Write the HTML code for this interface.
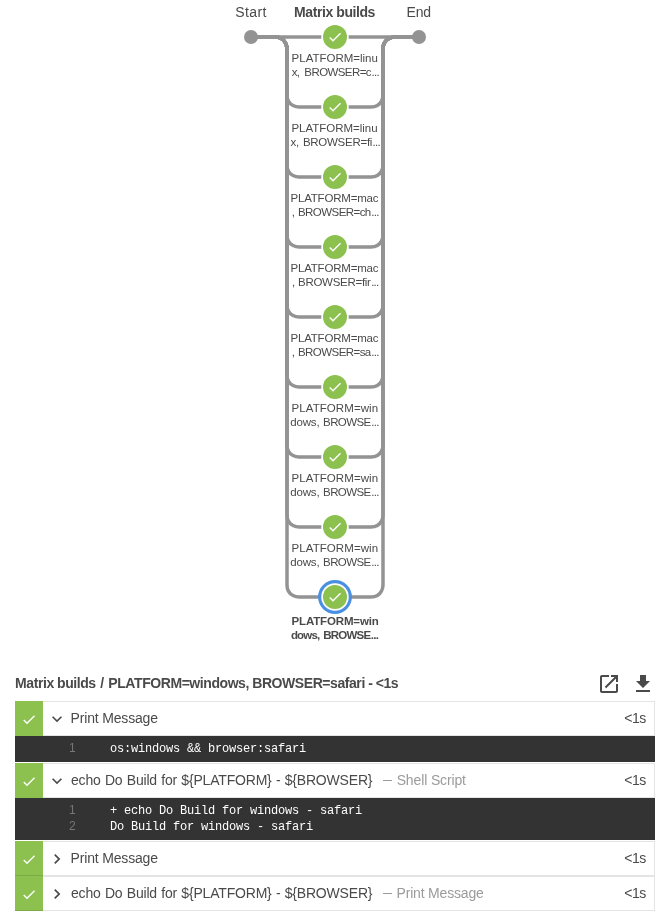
<!DOCTYPE html>
<html><head><meta charset="utf-8"><title>Pipeline</title>
<style>
html,body{margin:0;padding:0;background:#fff;}
body{width:658px;height:917px;position:relative;overflow:hidden;will-change:transform;font-family:"Liberation Sans",sans-serif;color:#4a4a4a;}
.graph{position:absolute;left:0;top:0;}
.bl{position:absolute;top:4px;font-size:14px;line-height:17px;white-space:nowrap;transform:translateX(-50%);color:#4a4a4a;}
.bl.b{font-weight:bold;}
.sl{position:absolute;left:285px;width:100px;text-align:center;font-size:11.5px;line-height:14px;white-space:nowrap;color:#4a4a4a;}
.sl.sel{font-weight:bold;}
.el{letter-spacing:-0.7px;word-spacing:0;margin-left:0.5px;}
.hd{position:absolute;left:15px;top:674px;font-size:14px;line-height:18px;font-weight:bold;white-space:nowrap;color:#4a4a4a;}
.row{position:absolute;left:15px;width:640px;height:35px;box-sizing:border-box;border:1px solid #e4e4e4;background:#fff;}
.gs{position:absolute;left:-1px;top:-1px;width:28px;height:35px;background:#8cc04f;}
.ck{position:absolute;left:0;top:0.5px;}
.gs.c:after{content:"";position:absolute;left:0;right:0;bottom:0;height:1px;background:rgba(0,0,0,0.1);}
.chev{position:absolute;left:31px;top:6.5px;}
.ttl{position:absolute;left:55px;top:8px;font-size:14px;line-height:17px;white-space:nowrap;color:#4a4a4a;}
.dash{position:absolute;left:367.3px;top:16px;width:9px;height:1px;background:#9b9b9b;}
.sub{position:absolute;top:8px;font-size:14px;line-height:17px;white-space:nowrap;color:#9b9b9b;}
.dur{position:absolute;right:8px;top:8px;font-size:14px;line-height:17px;white-space:nowrap;color:#4a4a4a;}
.code{position:absolute;left:15px;width:640px;background:#333;box-sizing:border-box;padding-top:5px;font-family:"Liberation Mono",monospace;font-size:12px;letter-spacing:-0.2px;line-height:16px;color:#fff;}
.ln{position:relative;height:16px;white-space:pre;}
.no{position:absolute;left:54px;top:-1px;color:#777;font-family:"Liberation Sans",sans-serif;font-size:12px;letter-spacing:0;}
.tx{position:absolute;left:95px;}
</style></head>
<body>
<svg class="graph" width="658" height="660" viewBox="0 0 658 660">
<g fill="none" stroke="#949393" stroke-width="3.5">
<path d="M 251 37 L 419 37"/>
<path d="M 251 37 l 24 0 c 12 0 12 12 12 12 l 0 46 c 0 12 12 12 12 12 l 36 0"/>
<path d="M 335 107 l 36 0 c 12 0 12 -12 12 -12 l 0 -46 c 0 -12 12 -12 12 -12 l 24 0"/>
<path d="M 251 37 l 24 0 c 12 0 12 12 12 12 l 0 116 c 0 12 12 12 12 12 l 36 0"/>
<path d="M 335 177 l 36 0 c 12 0 12 -12 12 -12 l 0 -116 c 0 -12 12 -12 12 -12 l 24 0"/>
<path d="M 251 37 l 24 0 c 12 0 12 12 12 12 l 0 186 c 0 12 12 12 12 12 l 36 0"/>
<path d="M 335 247 l 36 0 c 12 0 12 -12 12 -12 l 0 -186 c 0 -12 12 -12 12 -12 l 24 0"/>
<path d="M 251 37 l 24 0 c 12 0 12 12 12 12 l 0 256 c 0 12 12 12 12 12 l 36 0"/>
<path d="M 335 317 l 36 0 c 12 0 12 -12 12 -12 l 0 -256 c 0 -12 12 -12 12 -12 l 24 0"/>
<path d="M 251 37 l 24 0 c 12 0 12 12 12 12 l 0 326 c 0 12 12 12 12 12 l 36 0"/>
<path d="M 335 387 l 36 0 c 12 0 12 -12 12 -12 l 0 -326 c 0 -12 12 -12 12 -12 l 24 0"/>
<path d="M 251 37 l 24 0 c 12 0 12 12 12 12 l 0 396 c 0 12 12 12 12 12 l 36 0"/>
<path d="M 335 457 l 36 0 c 12 0 12 -12 12 -12 l 0 -396 c 0 -12 12 -12 12 -12 l 24 0"/>
<path d="M 251 37 l 24 0 c 12 0 12 12 12 12 l 0 466 c 0 12 12 12 12 12 l 36 0"/>
<path d="M 335 527 l 36 0 c 12 0 12 -12 12 -12 l 0 -466 c 0 -12 12 -12 12 -12 l 24 0"/>
<path d="M 251 37 l 24 0 c 12 0 12 12 12 12 l 0 536 c 0 12 12 12 12 12 l 36 0"/>
<path d="M 335 597 l 36 0 c 12 0 12 -12 12 -12 l 0 -536 c 0 -12 12 -12 12 -12 l 24 0"/>
</g>
<circle cx="251" cy="37" r="7" fill="#949393"/>
<circle cx="419" cy="37" r="7" fill="#949393"/>
<g transform="translate(335 37)">
<circle r="13.75" fill="#fff"/>
<circle r="12" fill="#8cc04f"/>
<polygon points="-2.00 2.80 -4.80 0.00 -5.73 0.933 -2.00 4.67 6.00 -3.33 5.07 -4.27" fill="#fff"/>
</g>
<g transform="translate(335 107)">
<circle r="13.75" fill="#fff"/>
<circle r="12" fill="#8cc04f"/>
<polygon points="-2.00 2.80 -4.80 0.00 -5.73 0.933 -2.00 4.67 6.00 -3.33 5.07 -4.27" fill="#fff"/>
</g>
<g transform="translate(335 177)">
<circle r="13.75" fill="#fff"/>
<circle r="12" fill="#8cc04f"/>
<polygon points="-2.00 2.80 -4.80 0.00 -5.73 0.933 -2.00 4.67 6.00 -3.33 5.07 -4.27" fill="#fff"/>
</g>
<g transform="translate(335 247)">
<circle r="13.75" fill="#fff"/>
<circle r="12" fill="#8cc04f"/>
<polygon points="-2.00 2.80 -4.80 0.00 -5.73 0.933 -2.00 4.67 6.00 -3.33 5.07 -4.27" fill="#fff"/>
</g>
<g transform="translate(335 317)">
<circle r="13.75" fill="#fff"/>
<circle r="12" fill="#8cc04f"/>
<polygon points="-2.00 2.80 -4.80 0.00 -5.73 0.933 -2.00 4.67 6.00 -3.33 5.07 -4.27" fill="#fff"/>
</g>
<g transform="translate(335 387)">
<circle r="13.75" fill="#fff"/>
<circle r="12" fill="#8cc04f"/>
<polygon points="-2.00 2.80 -4.80 0.00 -5.73 0.933 -2.00 4.67 6.00 -3.33 5.07 -4.27" fill="#fff"/>
</g>
<g transform="translate(335 457)">
<circle r="13.75" fill="#fff"/>
<circle r="12" fill="#8cc04f"/>
<polygon points="-2.00 2.80 -4.80 0.00 -5.73 0.933 -2.00 4.67 6.00 -3.33 5.07 -4.27" fill="#fff"/>
</g>
<g transform="translate(335 527)">
<circle r="13.75" fill="#fff"/>
<circle r="12" fill="#8cc04f"/>
<polygon points="-2.00 2.80 -4.80 0.00 -5.73 0.933 -2.00 4.67 6.00 -3.33 5.07 -4.27" fill="#fff"/>
</g>
<g transform="translate(335 597)">
<circle r="15" fill="none" stroke="#4a90e2" stroke-width="3.85"/>
<circle r="13.75" fill="#fff"/>
<circle r="12" fill="#8cc04f"/>
<polygon points="-2.00 2.80 -4.80 0.00 -5.73 0.933 -2.00 4.67 6.00 -3.33 5.07 -4.27" fill="#fff"/>
</g>
</svg>
<div class="bl" style="left:251px"><span id="b0" style="letter-spacing:0.374px;position:relative;left:-0.02px;">Start</span></div>
<div class="bl b" style="left:335px"><span id="b1" style="letter-spacing:-0.419px;position:relative;left:-0.47px;">Matrix builds</span></div>
<div class="bl" style="left:419px"><span id="b2" style="letter-spacing:-0.175px;position:relative;left:-0.34px;">End</span></div>
<div class="sl" style="top:51px"><span id="l0a" style="letter-spacing:-0.015px;position:relative;left:-0.31px;">PLATFORM=linu</span><br><span id="l0b" style="letter-spacing:-0.585px;word-spacing:2.302px;position:relative;left:0.32px;">x, BROWSER=c<span class="el">...</span></span></div>
<div class="sl" style="top:121px"><span id="l1a" style="letter-spacing:-0.013px;position:relative;left:-0.47px;">PLATFORM=linu</span><br><span id="l1b" style="letter-spacing:-0.271px;word-spacing:1.158px;position:relative;left:0.29px;">x, BROWSER=fi<span class="el">...</span></span></div>
<div class="sl" style="top:191px"><span id="l2a" style="letter-spacing:-0.2px;position:relative;left:-0.63px;">PLATFORM=mac</span><br><span id="l2b" style="letter-spacing:-0.555px;word-spacing:0.896px;position:relative;left:0.27px;">, BROWSER=ch<span class="el">...</span></span></div>
<div class="sl" style="top:261px"><span id="l3a" style="letter-spacing:-0.2px;position:relative;left:-0.63px;">PLATFORM=mac</span><br><span id="l3b" style="letter-spacing:-0.285px;word-spacing:0.297px;position:relative;left:0.29px;">, BROWSER=fir<span class="el">...</span></span></div>
<div class="sl" style="top:331px"><span id="l4a" style="letter-spacing:-0.2px;position:relative;left:-0.63px;">PLATFORM=mac</span><br><span id="l4b" style="letter-spacing:-0.555px;word-spacing:0.896px;position:relative;left:0.27px;">, BROWSER=sa<span class="el">...</span></span></div>
<div class="sl" style="top:401px"><span id="l5a" style="letter-spacing:0.069px;position:relative;left:-0.16px;">PLATFORM=win</span><br><span id="l5b" style="letter-spacing:-0.595px;word-spacing:1.083px;position:relative;left:-0.56px;"><span style="letter-spacing:-0.18px">dows,</span> BROWSE<span class="el">...</span></span></div>
<div class="sl" style="top:471px"><span id="l6a" style="letter-spacing:0.069px;position:relative;left:-0.16px;">PLATFORM=win</span><br><span id="l6b" style="letter-spacing:-0.595px;word-spacing:1.083px;position:relative;left:-0.56px;"><span style="letter-spacing:-0.18px">dows,</span> BROWSE<span class="el">...</span></span></div>
<div class="sl" style="top:541px"><span id="l7a" style="letter-spacing:0.069px;position:relative;left:-0.16px;">PLATFORM=win</span><br><span id="l7b" style="letter-spacing:-0.595px;word-spacing:1.083px;position:relative;left:-0.56px;"><span style="letter-spacing:-0.18px">dows,</span> BROWSE<span class="el">...</span></span></div>
<div class="sl sel" style="top:614px"><span id="l8a" style="letter-spacing:-0.159px;position:relative;left:0.09px;">PLATFORM=win</span><br><span id="l8b" style="letter-spacing:-0.806px;word-spacing:1.526px;position:relative;left:-0.41px;">dows, BROWSE<span class="el">...</span></span></div>
<div class="hd"><span id="hd" style="letter-spacing:-0.43px;word-spacing:-0.166px;position:relative;left:0.11px;">Matrix builds <span style="margin:0 1.4px 0 1.2px">/</span> PLATFORM=windows, BROWSER=safari - &lt;1s</span></div>
<svg style="position:absolute;left:597px;top:672px" width="24" height="24" viewBox="0 0 24 24"><path fill="#4a4a4a" d="M19 19H5V5h7V3H5c-1.11 0-2 .9-2 2v14c0 1.1.89 2 2 2h14c1.1 0 2-.9 2-2v-7h-2v7zM14 3v2h3.59l-9.83 9.83 1.41 1.41L19 6.41V10h2V3h-7z"/></svg>
<svg style="position:absolute;left:631px;top:672px" width="24" height="24" viewBox="0 0 24 24"><path fill="#4a4a4a" d="M19 9h-4V3H9v6H5l7 7 7-7zM5 18v2h14v-2H5z"/></svg>
<div class="row" style="top:701px"><div class="gs"><svg class="ck" width="28" height="35" viewBox="-14 -17.5 28 35"><polygon points="-2.00 2.80 -4.80 0.00 -5.73 0.933 -2.00 4.67 6.00 -3.33 5.07 -4.27" fill="#fff"/></svg></div><svg class="chev" width="20" height="20" viewBox="0 0 24 24"><path d="M7.41 8.59L12 13.17l4.59-4.58L18 10l-6 6-6-6 1.41-1.41z" fill="#4a4a4a"/></svg><span class="ttl"><span id="r1t" style="letter-spacing:-0.172px;position:relative;left:-0.44px;">Print Message</span></span><span class="dur"><span id="r1d" style="letter-spacing:-0.394px;position:relative;left:-0.06px;">&lt;1s</span></span></div>
<div class="code" style="top:736px;height:25.5px"><div class="ln"><span class="no">1</span><span class="tx">os:windows &amp;&amp; browser:safari</span></div></div>
<div class="row" style="top:763px"><div class="gs"><svg class="ck" width="28" height="35" viewBox="-14 -17.5 28 35"><polygon points="-2.00 2.80 -4.80 0.00 -5.73 0.933 -2.00 4.67 6.00 -3.33 5.07 -4.27" fill="#fff"/></svg></div><svg class="chev" width="20" height="20" viewBox="0 0 24 24"><path d="M7.41 8.59L12 13.17l4.59-4.58L18 10l-6 6-6-6 1.41-1.41z" fill="#4a4a4a"/></svg><span class="ttl"><span id="r2t" style="letter-spacing:-0.19px;word-spacing:0.623px;position:relative;left:0.01px;">echo Do Build for ${PLATFORM} - ${BROWSER}</span></span><i class="dash"></i><span class="sub" style="left:382px"><span id="r2s" style="letter-spacing:-0.136px;position:relative;left:-1.34px;">Shell Script</span></span><span class="dur"><span id="r2d" style="letter-spacing:-0.394px;position:relative;left:-0.06px;">&lt;1s</span></span></div>
<div class="code" style="top:798px;height:41.5px"><div class="ln"><span class="no">1</span><span class="tx">+ echo Do Build for windows - safari</span></div><div class="ln"><span class="no">2</span><span class="tx">Do Build for windows - safari</span></div></div>
<div class="row" style="top:841px"><div class="gs c"><svg class="ck" width="28" height="35" viewBox="-14 -17.5 28 35"><polygon points="-2.00 2.80 -4.80 0.00 -5.73 0.933 -2.00 4.67 6.00 -3.33 5.07 -4.27" fill="#fff"/></svg></div><svg class="chev" width="20" height="20" viewBox="0 0 24 24"><path d="M8.59 16.59L13.17 12 8.59 7.41 10 6l6 6-6 6-1.41-1.41z" fill="#4a4a4a"/></svg><span class="ttl"><span id="r3t" style="letter-spacing:-0.172px;position:relative;left:-0.44px;">Print Message</span></span><span class="dur"><span id="r3d" style="letter-spacing:-0.394px;position:relative;left:-0.06px;">&lt;1s</span></span></div>
<div class="row" style="top:876px"><div class="gs c"><svg class="ck" width="28" height="35" viewBox="-14 -17.5 28 35"><polygon points="-2.00 2.80 -4.80 0.00 -5.73 0.933 -2.00 4.67 6.00 -3.33 5.07 -4.27" fill="#fff"/></svg></div><svg class="chev" width="20" height="20" viewBox="0 0 24 24"><path d="M8.59 16.59L13.17 12 8.59 7.41 10 6l6 6-6 6-1.41-1.41z" fill="#4a4a4a"/></svg><span class="ttl"><span id="r4t" style="letter-spacing:-0.19px;word-spacing:0.623px;position:relative;left:0.01px;">echo Do Build for ${PLATFORM} - ${BROWSER}</span></span><i class="dash"></i><span class="sub" style="left:382px"><span id="r4s" style="letter-spacing:-0.187px;position:relative;left:-1.44px;">Print Message</span></span><span class="dur"><span id="r4d" style="letter-spacing:-0.394px;position:relative;left:-0.06px;">&lt;1s</span></span></div>
</body></html>
